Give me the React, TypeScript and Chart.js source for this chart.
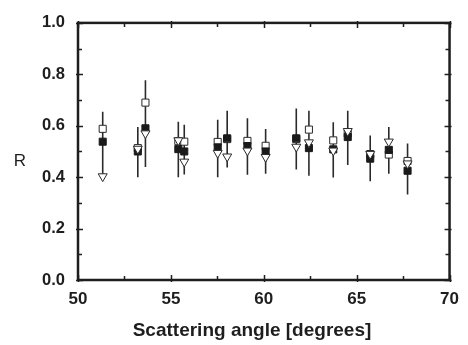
import React, { useEffect, useRef } from "react";
import { Chart, registerables } from "chart.js";

Chart.register(...registerables);

// Scattering angle (degrees) of each measurement
const angles = [51.33, 53.22, 53.63, 55.4, 55.72, 57.52, 58.03, 59.12, 60.1, 61.75, 62.43, 63.74, 64.52, 65.73, 66.73, 67.74];
// Filled squares
const filledR = [0.538, 0.5, 0.59, 0.509, 0.5, 0.516, 0.551, 0.521, 0.5, 0.551, 0.513, 0.508, 0.556, 0.472, 0.506, 0.425];
// Open squares
const openR = [0.588, 0.513, 0.69, 0.54, 0.538, 0.537, 0.548, 0.541, 0.522, 0.548, 0.585, 0.543, 0.57, 0.49, 0.488, 0.463];
// Open down-triangles
const triR = [0.403, 0.51, 0.57, 0.543, 0.46, 0.494, 0.48, 0.503, 0.478, 0.518, 0.535, 0.503, 0.579, 0.49, 0.538, 0.453];
// Error bar limits
const errLow = [0.41, 0.4, 0.44, 0.4, 0.41, 0.4, 0.438, 0.409, 0.413, 0.43, 0.405, 0.399, 0.447, 0.384, 0.413, 0.333];
const errHigh = [0.654, 0.595, 0.777, 0.616, 0.604, 0.623, 0.658, 0.629, 0.587, 0.667, 0.658, 0.614, 0.658, 0.562, 0.595, 0.531];

const xTicks = [50, 55, 60, 65, 70];
const yTicks = [0, 0.2, 0.4, 0.6, 0.8, 1.0];
const xTitle = "Scattering angle [degrees]";
const yTitle = "R";

const FONT = "'Liberation Sans', Arial, sans-serif";
const INK = "#1e1e1e";

const framePlugin = {
  id: "frame",
  afterDraw(chart: any) {
    const { ctx, chartArea, scales } = chart;
    const { left, right, top, bottom } = chartArea;
    const xs = scales.x;
    const ys = scales.y;
    ctx.save();
    ctx.strokeStyle = INK;
    ctx.lineWidth = 1.5;
    // x ticks (major + minor), bottom and top
    for (let v = 50; v <= 70 + 1e-9; v += 2.5) {
      const major = Math.abs(v / 5 - Math.round(v / 5)) < 1e-6;
      const px = Math.round(xs.getPixelForValue(v)) + 0.5;
      const inLen = major ? 5 : 4;
      const outLen = major ? 2 : 0;
      ctx.beginPath();
      ctx.moveTo(px, bottom + outLen);
      ctx.lineTo(px, bottom - inLen);
      ctx.moveTo(px, top - outLen);
      ctx.lineTo(px, top + inLen);
      ctx.stroke();
    }
    for (let i = 0; i <= 10; i++) {
      const v = i / 10;
      const major = i % 2 === 0;
      const py = Math.round(ys.getPixelForValue(v)) + 0.5;
      const inLen = major ? 5 : 4;
      const outLen = major ? 2 : 0;
      ctx.beginPath();
      ctx.moveTo(left - outLen, py);
      ctx.lineTo(left + inLen, py);
      ctx.moveTo(right + outLen, py);
      ctx.lineTo(right - inLen, py);
      ctx.stroke();
    }
    // frame
    ctx.lineWidth = 2.5;
    ctx.strokeRect(left, top, right - left, bottom - top);
    // titles
    ctx.fillStyle = INK;
    ctx.font = `bold 19px ${FONT}`;
    ctx.textAlign = "center";
    ctx.textBaseline = "alphabetic";
    ctx.fillText(xTitle, 252, 336);
    ctx.font = `17px ${FONT}`;
    ctx.textBaseline = "middle";
    ctx.fillText(yTitle, 20, 161);
    ctx.restore();
  },
};

export default function App() {
  const ref = useRef<HTMLCanvasElement | null>(null);

  useEffect(() => {
    if (!ref.current) return;
    const errData: any[] = [];
    angles.forEach((a, i) => {
      errData.push({ x: a, y: errLow[i] });
      errData.push({ x: a, y: errHigh[i] });
      errData.push({ x: a, y: null });
    });
    const chart = new Chart(ref.current, {
      type: "scatter",
      data: {
        datasets: [
          {
            label: "error",
            data: errData,
            showLine: true,
            spanGaps: false,
            borderColor: "#2a2a2a",
            borderWidth: 1.6,
            pointRadius: 0,
            order: 4,
          } as any,
          {
            label: "open",
            data: angles.map((a, i) => ({ x: a, y: openR[i] })),
            pointStyle: "rect",
            pointRadius: 5,
            borderWidth: 1,
            borderColor: "#2a2a2a",
            backgroundColor: "#ffffff",
            order: 3,
          },
          {
            label: "filled",
            data: angles.map((a, i) => ({ x: a, y: filledR[i] })),
            pointStyle: "rect",
            pointRadius: 5,
            borderWidth: 1,
            borderColor: "#1a1a1a",
            backgroundColor: "#1a1a1a",
            order: 2,
          },
          {
            label: "triangle",
            data: angles.map((a, i) => ({ x: a, y: triR[i] })),
            pointStyle: "triangle",
            rotation: 180,
            pointRadius: 5.2,
            borderWidth: 1,
            borderColor: "#2a2a2a",
            backgroundColor: "#ffffff",
            order: 1,
          } as any,
        ],
      },
      options: {
        animation: false,
        responsive: false,
        maintainAspectRatio: false,
        layout: { padding: { top: 14, right: 16, left: 0, bottom: 0 } },
        plugins: { legend: { display: false }, tooltip: { enabled: false } },
        scales: {
          x: {
            type: "linear",
            min: 50,
            max: 70,
            afterBuildTicks: (s: any) => {
              s.ticks = xTicks.map((v) => ({ value: v }));
            },
            afterFit: (s: any) => {
              s.height = 65;
            },
            grid: { display: false, drawTicks: false },
            border: { display: false },
            ticks: {
              padding: 9,
              color: INK,
              font: { family: FONT, size: 17, weight: "bold" },
              callback: (v: any) => String(v),
            },
          },
          y: {
            type: "linear",
            min: 0,
            max: 1,
            afterBuildTicks: (s: any) => {
              s.ticks = yTicks.map((v) => ({ value: v }));
            },
            afterFit: (s: any) => {
              s.width = 78;
            },
            grid: { display: false, drawTicks: false },
            border: { display: false },
            ticks: {
              padding: 13,
              color: INK,
              font: { family: FONT, size: 16.5, weight: "bold" },
              callback: (v: any) => Number(v).toFixed(1),
            },
          },
        },
      },
      plugins: [framePlugin],
    });
    return () => chart.destroy();
  }, []);

  return (
    <div style={{ position: "fixed", left: 0, top: 0, width: 468, height: 345, background: "#fff" }}>
      <canvas ref={ref} width={468} height={345} style={{ width: 468, height: 345, display: "block" }} />
    </div>
  );
}
